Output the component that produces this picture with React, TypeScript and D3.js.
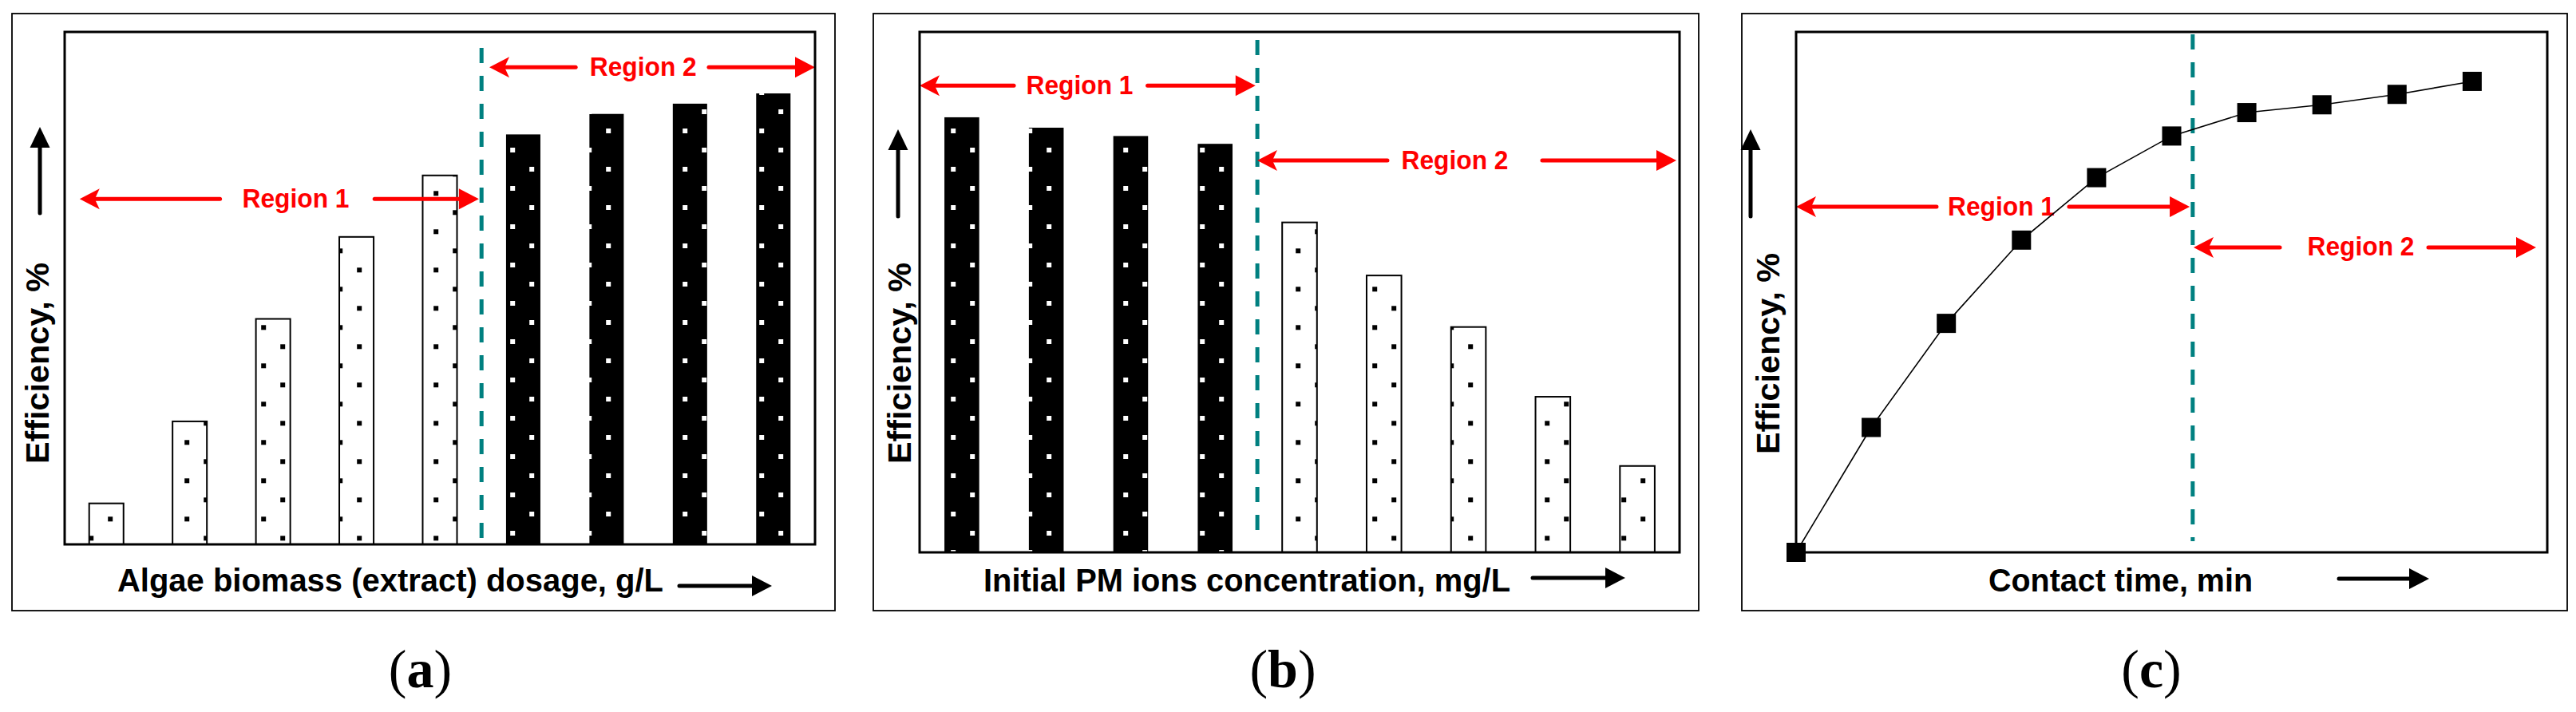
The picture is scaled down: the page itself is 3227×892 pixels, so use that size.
import React from 'react';
import * as d3 from 'd3';

// (a) removal efficiency vs algae biomass dosage (relative %)
const dosageEff = [8, 24, 44, 60, 72, 80, 84, 86, 88];
const dosageShade = ['light', 'light', 'light', 'light', 'light', 'dark', 'dark', 'dark', 'dark'];
// (b) removal efficiency vs initial PM ions concentration
const concEff = [83.6, 81.6, 80, 78.5, 63.4, 53.2, 43.3, 29.9, 16.6];
const concShade = ['dark', 'dark', 'dark', 'dark', 'light', 'light', 'light', 'light', 'light'];
// (c) removal efficiency vs contact time
const timeStep = [0, 1, 2, 3, 4, 5, 6, 7, 8, 9];
const timeEff = [0, 24, 44, 60, 72, 80, 84.5, 86, 88, 90.5];

// region annotations: x as fraction of plot width, y in efficiency units
const annA = [
  { label: 'Region 1', y: 67.4, x1: 0.02, x2: 0.552, g1: 0.207, g2: 0.413, tc: 0.308 },
  { label: 'Region 2', y: 93.1, x1: 0.566, x2: 1.0, g1: 0.681, g2: 0.8585, tc: 0.771 },
];
const annB = [
  { label: 'Region 1', y: 89.7, x1: 0, x2: 0.442, g1: 0.124, g2: 0.3, tc: 0.2106 },
  { label: 'Region 2', y: 75.3, x1: 0.4443, x2: 0.9958, g1: 0.6155, g2: 0.8193, tc: 0.7043 },
];
const annC = [
  { label: 'Region 1', y: 66.4, x1: 0, x2: 0.524, g1: 0.187, g2: 0.3634, tc: 0.2731 },
  { label: 'Region 2', y: 58.6, x1: 0.5292, x2: 0.9851, g1: 0.644, g2: 0.8417, tc: 0.7519 },
];
const timeBoundary = 5.28;

const SANS = '"Liberation Sans", Arial, sans-serif';
const RED = '#ff0000';
const TEAL = '#008080';

const RedArrow = ({ a, left, width, yScale }) => {
  const y = yScale(a.y);
  const x1 = left + a.x1 * width;
  const x2 = left + a.x2 * width;
  const g1 = left + a.g1 * width;
  const g2 = left + a.g2 * width;
  const tc = left + a.tc * width;
  const L = 25, h = 13;
  return (
    <g>
      <line x1={x1 + 18} y1={y} x2={g1} y2={y} stroke={RED} strokeWidth={5} strokeLinecap="round" />
      <line x1={g2} y1={y} x2={x2 - L + 2} y2={y} stroke={RED} strokeWidth={5} strokeLinecap="round" />
      <path d={`M${x1},${y} L${x1 + L},${y - h} L${x1 + 19},${y} L${x1 + L},${y + h} Z`} fill={RED} />
      <path d={`M${x2},${y} L${x2 - L},${y - h} L${x2 - L},${y + h} Z`} fill={RED} />
      <text x={tc} y={y + 10.5} textAnchor="middle" fill={RED} fontFamily={SANS} fontWeight="bold"
        fontSize={33} textLength={134} lengthAdjust="spacingAndGlyphs">{a.label}</text>
    </g>
  );
};

const Frame = ({ outer, inner, xLabel, xLabelSpan, xArrow, yArrow, yLabel, caption }) => {
  const [ol, ot, or, ob] = outer;
  const [il, it, ir, ib] = inner;
  return (
    <g>
      <rect x={ol} y={ot} width={or - ol} height={ob - ot} fill="none" stroke="#000" strokeWidth={1.8} />
      <rect x={il} y={it} width={ir - il} height={ib - it} fill="none" stroke="#000" strokeWidth={3} />
      {/* x axis label + arrow */}
      <text x={xLabelSpan[0]} y={741} fontFamily={SANS} fontWeight="bold" fontSize={41}
        textLength={xLabelSpan[1] - xLabelSpan[0]} lengthAdjust="spacingAndGlyphs">{xLabel}</text>
      <line x1={xArrow[0]} y1={xArrow[2]} x2={xArrow[1] - 22} y2={xArrow[2]} stroke="#000" strokeWidth={5} strokeLinecap="round" />
      <path d={`M${xArrow[1]},${xArrow[2]} L${xArrow[1] - 25},${xArrow[2] - 13} L${xArrow[1] - 25},${xArrow[2] + 13} Z`} fill="#000" />
      {/* y axis label + arrow */}
      <line x1={yArrow[0]} y1={yArrow[2]} x2={yArrow[0]} y2={yArrow[1] + 22} stroke="#000" strokeWidth={5} strokeLinecap="round" />
      <path d={`M${yArrow[0]},${yArrow[1]} L${yArrow[0] - 12.5},${yArrow[1] + 26} L${yArrow[0] + 12.5},${yArrow[1] + 26} Z`} fill="#000" />
      <text transform={`translate(${yLabel[0]},${yLabel[1]}) rotate(-90)`} textAnchor="middle"
        fontFamily={SANS} fontWeight="bold" fontSize={41} textLength={252} lengthAdjust="spacingAndGlyphs">Efficiency, %</text>
      <text x={(ol + or) / 2 - 4} y={861} textAnchor="middle" fontFamily='"Liberation Serif", "Times New Roman", serif'
        fontSize={68}>(<tspan fontWeight="bold">{caption}</tspan>)</text>
    </g>
  );
};

const BarPanel = ({ values, shades, inner, boundary, dash, ann, ...rest }) => {
  const [il, it, ir, ib] = inner;
  const x = d3.scaleBand().domain(values.map((_, i) => i)).range([il, ir]).paddingInner(0.588).paddingOuter(0.294);
  const y = d3.scaleLinear().domain([0, 100]).range([ib, it]);
  const bx = il + boundary * x.step();
  return (
    <g>
      {values.map((v, i) => (
        <rect key={i} x={x(i)} y={y(v)} width={x.bandwidth()} height={ib - y(v)}
          fill={shades[i] === 'dark' ? 'url(#dotsDark)' : 'url(#dotsLight)'}
          stroke="#000" strokeWidth={shades[i] === 'dark' ? 0 : 2} />
      ))}
      <line x1={bx} x2={bx} y1={dash[0]} y2={dash[1]} stroke={TEAL} strokeWidth={5} strokeDasharray="19 16" />
      {ann.map((a, i) => <RedArrow key={i} a={a} left={il} width={ir - il} yScale={y} />)}
      <Frame inner={inner} {...rest} />
    </g>
  );
};

const LinePanel = ({ inner, ...rest }) => {
  const [il, it, ir, ib] = inner;
  const x = d3.scaleLinear().domain([0, 10]).range([il, ir]);
  const y = d3.scaleLinear().domain([0, 100]).range([ib, it]);
  const pts = timeStep.map((t, i) => [x(t), y(timeEff[i])]);
  const line = d3.line();
  const bx = x(timeBoundary);
  return (
    <g>
      <line x1={bx} x2={bx} y1={43} y2={678} stroke={TEAL} strokeWidth={5} strokeDasharray="19 16" />
      {annC.map((a, i) => <RedArrow key={i} a={a} left={il} width={ir - il} yScale={y} />)}
      <Frame inner={inner} {...rest} />
      <path d={line(pts)} fill="none" stroke="#000" strokeWidth={1.6} />
      {pts.map((p, i) => (
        <rect key={i} x={p[0] - 12} y={p[1] - 12} width={24} height={24} fill="#000" />
      ))}
    </g>
  );
};

export default function App() {
  return (
    <svg width={3227} height={892} style={{ position: 'absolute', left: 0, top: 0, background: '#fff' }}>
      <defs>
        <pattern id="dotsLight" patternUnits="userSpaceOnUse" x={30.2} y={14.3} width={48} height={48}>
          <rect width={48} height={48} fill="#fff" />
          <rect x={9} y={9} width={6} height={6} fill="#000" />
          <rect x={33} y={33} width={6} height={6} fill="#000" />
        </pattern>
        <pattern id="dotsDark" patternUnits="userSpaceOnUse" x={30.2} y={8} width={48} height={48}>
          <rect width={48} height={48} fill="#000" />
          <rect x={9} y={9} width={6} height={6} fill="#fff" />
          <rect x={33} y={33} width={6} height={6} fill="#fff" />
        </pattern>
      </defs>
      <rect width={3227} height={892} fill="#fff" />
      <BarPanel values={dosageEff} shades={dosageShade} inner={[81, 40, 1021, 682]} outer={[15, 17, 1046, 765]}
        boundary={5} dash={[60, 682]} ann={annA}
        xLabel="Algae biomass (extract) dosage, g/L" xLabelSpan={[147, 831]} xArrow={[851, 967, 734]}
        yArrow={[50, 159, 267]} yLabel={[61, 455]} caption="a" />
      <BarPanel values={concEff} shades={concShade} inner={[1152, 40, 2104, 692]} outer={[1094, 17, 2128, 765]}
        boundary={4} dash={[50, 670]} ann={annB}
        xLabel="Initial PM  ions concentration, mg/L" xLabelSpan={[1232, 1892]} xArrow={[1920, 2036, 724]}
        yArrow={[1125, 162, 271]} yLabel={[1141, 455]} caption="b" />
      <LinePanel inner={[2250, 40, 3191, 692]} outer={[2182, 17, 3216, 765]}
        xLabel="Contact time, min" xLabelSpan={[2491, 2822]} xArrow={[2930, 3043, 725]}
        yArrow={[2193, 162, 271]} yLabel={[2229, 443]} caption="c" />
    </svg>
  );
}
